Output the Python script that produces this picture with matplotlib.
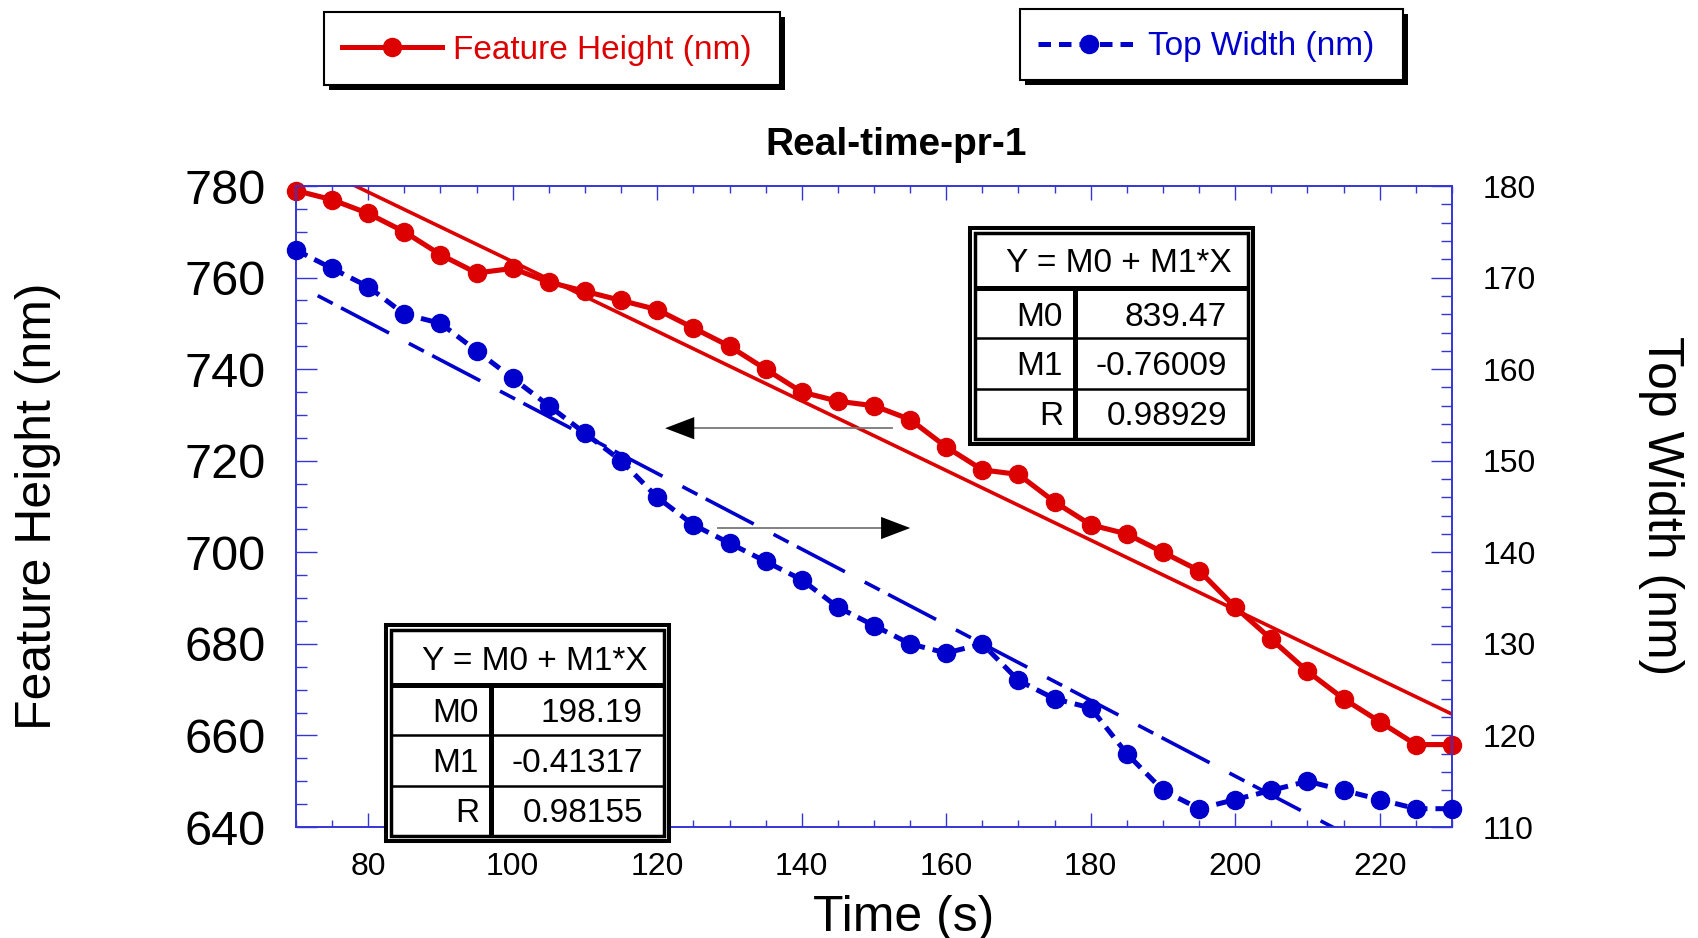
import matplotlib
matplotlib.use("Agg")
import matplotlib.pyplot as plt
from matplotlib.lines import Line2D
from matplotlib.patches import Rectangle, FancyArrowPatch
from matplotlib.ticker import MultipleLocator

plt.rcParams['font.family'] = ['Liberation Sans', 'DejaVu Sans']

# data
time_s = [70, 75, 80, 85, 90, 95, 100, 105, 110, 115, 120, 125, 130, 135, 140, 145, 150,
          155, 160, 165, 170, 175, 180, 185, 190, 195, 200, 205, 210, 215, 220, 225, 230]
feature_height = [779, 777, 774, 770, 765, 761, 762, 759, 757, 755, 753, 749, 745, 740, 735, 733, 732,
                  729, 723, 718, 717, 711, 706, 704, 700, 696, 688, 681, 674, 668, 663, 658, 658]
top_width = [173, 171, 169, 166, 165, 162, 159, 156, 153, 150, 146, 143, 141, 139, 137, 134, 132,
             130, 129, 130, 126, 124, 123, 118, 114, 112, 113, 114, 115, 114, 113, 112, 112]

# linear fits (Y = M0 + M1*X)
fit_h = {'M0': '839.47', 'M1': '-0.76009', 'R': '0.98929'}
fit_w = {'M0': '198.19', 'M1': '-0.41317', 'R': '0.98155'}
fit_h_x = [70, 230]
fit_w_x = [73, 230]

RED = '#DD0000'
BLUE = '#0000CC'
AXC = '#3535D5'

W, H = 1699, 938
fig = plt.figure(figsize=(W / 100, H / 100), dpi=100)
ax = fig.add_axes([296 / W, 1 - 827 / H, 1156 / W, 641 / H])
ax2 = ax.twinx()

def fx(x):
    return x / W

def fy(y):
    return 1 - y / H

# fits
m0, m1 = float(fit_h['M0']), float(fit_h['M1'])
ax.plot(fit_h_x, [m0 + m1 * x for x in fit_h_x], color=RED, lw=2.6, zorder=2)
m0, m1 = float(fit_w['M0']), float(fit_w['M1'])
ax2.plot(fit_w_x, [m0 + m1 * x for x in fit_w_x], color=BLUE, lw=2.6,
         linestyle=(0, (4.7, 2.6, 15, 6.2)), zorder=2)

# data
ax.plot(time_s, feature_height, color=RED, lw=3.7, marker='o', ms=13, clip_on=False, zorder=3)
ax2.plot(time_s, top_width, color=BLUE, lw=3.6, linestyle=(0, (2.5, 1.6)),
         marker='o', ms=13, clip_on=False, zorder=3)

ax.set_xlim(70, 230)
ax.set_ylim(640, 780)
ax2.set_ylim(110, 180)

ax.xaxis.set_major_locator(MultipleLocator(20))
ax.xaxis.set_minor_locator(MultipleLocator(5))
ax.yaxis.set_major_locator(MultipleLocator(20))
ax.yaxis.set_minor_locator(MultipleLocator(5))
ax2.yaxis.set_major_locator(MultipleLocator(10))
ax2.yaxis.set_minor_locator(MultipleLocator(2))

ax.tick_params(axis='x', which='major', direction='in', length=10, width=1, color=AXC,
               top=True, labelsize=23, pad=18)
ax.tick_params(axis='x', which='minor', direction='in', length=5, width=1, color=AXC, top=True)
ax.tick_params(axis='y', which='major', direction='in', length=15, width=1, color=AXC,
               right=False, labelsize=35, pad=22)
ax.tick_params(axis='y', which='minor', direction='in', length=8, width=1, color=AXC, right=False)
ax2.tick_params(axis='y', which='major', direction='in', length=15, width=1, color=AXC,
                labelsize=23, pad=22)
ax2.tick_params(axis='y', which='minor', direction='in', length=8, width=1, color=AXC)
for a in (ax, ax2):
    for s in a.spines.values():
        s.set_color(AXC)
        s.set_linewidth(1.2)

# arrows pointing to each axis
ax.plot([152.5, 124.8], [727.1, 727.1], color='#777777', lw=1.3, zorder=4)
ax.add_patch(FancyArrowPatch((124.8, 727.1), (120.7, 727.1), arrowstyle='-|>,head_length=21,head_width=8',
                             mutation_scale=1, color='black', lw=0, zorder=4))
ax.plot([128.4, 151.2], [705.3, 705.3], color='#777777', lw=1.3, zorder=4)
ax.add_patch(FancyArrowPatch((151.2, 705.3), (155.4, 705.3), arrowstyle='-|>,head_length=21,head_width=8',
                             mutation_scale=1, color='black', lw=0, zorder=4))

# labels
fig.text(fx(896), fy(145), 'Real-time-pr-1', fontsize=28, fontweight='bold', ha='center', va='center')
fig.text(fx(904), fy(918), 'Time (s)', fontsize=36, ha='center', va='center')
fig.text(fx(38), fy(506), 'Feature Height (nm)', fontsize=36, ha='center', va='center', rotation=90)
fig.text(fx(1661), fy(506), 'Top Width (nm)', fontsize=36, ha='center', va='center', rotation=-90)

# legend boxes with shadow
def legend_box(x0, y0, x1, y1, sample_x0, sample_x1, sy, tx, label, color, ls):
    fig.add_artist(Rectangle((fx(x0 + 5), fy(y1 + 5)), (x1 - x0) / W, (y1 - y0) / H,
                             transform=fig.transFigure, fc='black', ec='black', lw=0, zorder=5))
    fig.add_artist(Rectangle((fx(x0), fy(y1)), (x1 - x0) / W, (y1 - y0) / H,
                             transform=fig.transFigure, fc='white', ec='black', lw=1.5, zorder=6))
    fig.add_artist(Line2D([fx(sample_x0), fx(sample_x1)], [fy(sy), fy(sy)], transform=fig.transFigure,
                          color=color, lw=3.6, linestyle=ls, zorder=7))
    fig.add_artist(Line2D([fx((sample_x0 + sample_x1) / 2)], [fy(sy)], transform=fig.transFigure,
                          color=color, marker='o', ms=13, zorder=7))
    fig.text(fx(tx), fy(sy + 3), label, color=color, fontsize=24, va='center', ha='left', zorder=8)

legend_box(324, 12, 780, 85, 342, 442, 47, 453, 'Feature Height (nm)', RED, '-')
legend_box(1020, 9, 1403, 80, 1038, 1140, 44, 1148, 'Top Width (nm)', BLUE, (0, (2.5, 1.6)))

# fit parameter tables
def fit_table(left, top, vals):
    tw, th = 287, 220
    def rect(inset, lw):
        fig.add_artist(Rectangle((fx(left + inset), fy(top + th - inset)), (tw - 2 * inset) / W,
                                 (th - 2 * inset) / H, transform=fig.transFigure,
                                 fc='none', ec='black', lw=lw, zorder=10))
    fig.add_artist(Rectangle((fx(left), fy(top + th)), tw / W, th / H, transform=fig.transFigure,
                             fc='white', ec='none', zorder=9))
    rect(2, 2.9)
    rect(7.3, 2.5)
    def hline(y, lw):
        fig.add_artist(Line2D([fx(left + 8), fx(left + tw - 8)], [fy(top + y)] * 2,
                              transform=fig.transFigure, color='black', lw=lw, zorder=10))
    hline(62, 3.6)
    hline(112, 1.8)
    hline(162.5, 1.8)
    fig.add_artist(Line2D([fx(left + 107.5)] * 2, [fy(top + 62), fy(top + th - 8)],
                          transform=fig.transFigure, color='black', lw=3.6, zorder=10))
    fig.text(fx(left + 264), fy(top + 38), 'Y = M0 + M1*X', fontsize=24, ha='right', va='center', zorder=11)
    for yc, key in zip([91, 140.5, 190.5], ['M0', 'M1', 'R']):
        fig.text(fx(left + 95), fy(top + yc), key, fontsize=24, ha='right', va='center', zorder=11)
        fig.text(fx(left + 259), fy(top + yc), vals[key], fontsize=24, ha='right', va='center', zorder=11)

fit_table(968, 226, fit_h)
fit_table(384, 623, fit_w)

fig.savefig('out.png', dpi=100)
